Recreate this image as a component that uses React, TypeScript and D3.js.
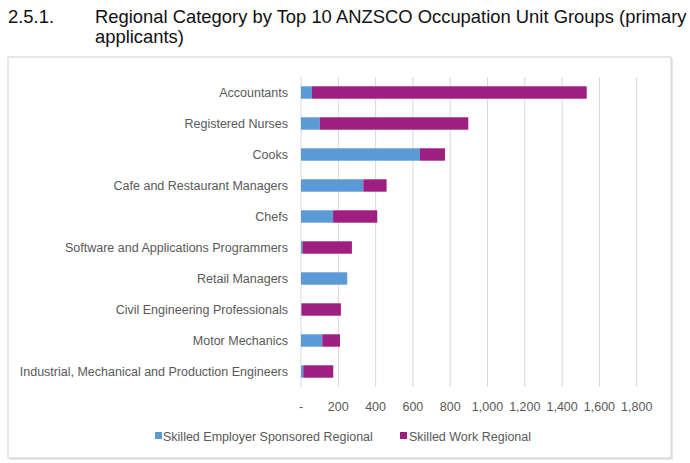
import React from "react";
import * as d3 from "d3";

const categories = [
  "Accountants",
  "Registered Nurses",
  "Cooks",
  "Cafe and Restaurant Managers",
  "Chefs",
  "Software and Applications Programmers",
  "Retail Managers",
  "Civil Engineering Professionals",
  "Motor Mechanics",
  "Industrial, Mechanical and Production Engineers",
];
const employerSponsored = [59, 100, 638, 334, 172, 8, 248, 3, 114, 12];
const skilledWork = [1473, 797, 134, 125, 237, 265, 0, 211, 95, 161];
const tickValues = [0, 200, 400, 600, 800, 1000, 1200, 1400, 1600, 1800];
const seriesNames = ["Skilled Employer Sponsored Regional", "Skilled Work Regional"];
const colors = ["#5B9BD5", "#9E1F80"];

export default function App() {
  const W = 690, H = 463;
  const x = d3.scaleLinear().domain([0, 1800]).range([301, 636.7]);
  const y = d3.scaleBand().domain(categories).range([77, 387]).paddingInner(0.6).paddingOuter(0.3);
  const fmt = (v: number) => (v === 0 ? "-" : d3.format(",")(v));
  const labelFont = "'Liberation Sans', Arial, sans-serif";
  const fs = 12.5;
  const tfs = 18.4;
  return (
    <svg width={W} height={H} style={{ position: "absolute", left: 0, top: 0, background: "#fff" }}>
      <text x={8} y={23} fontFamily={labelFont} fontSize={tfs} fill="#111">2.5.1.</text>
      <text x={95} y={23} fontFamily={labelFont} fontSize={tfs} fill="#111">
        Regional Category by Top 10 ANZSCO Occupation Unit Groups (primary
      </text>
      <text x={95} y={43} fontFamily={labelFont} fontSize={tfs} fill="#111">applicants)</text>
      <rect x={10} y={58} width={663} height={402} fill="#e8e8e8" />
      <rect x={8} y={57} width={663} height={401} fill="#fff" stroke="#d0d0d0" strokeWidth={1} />
      {tickValues.map((t) => (
        <line key={t} x1={x(t)} x2={x(t)} y1={77} y2={387} stroke="#d9d9d9" strokeWidth={1} />
      ))}
      {categories.map((c, i) => (
        <g key={c}>
          <rect x={x(0)} y={y(c)!} width={x(employerSponsored[i]) - x(0)} height={y.bandwidth()} fill={colors[0]} />
          <rect
            x={x(employerSponsored[i])}
            y={y(c)!}
            width={x(employerSponsored[i] + skilledWork[i]) - x(employerSponsored[i])}
            height={y.bandwidth()}
            fill={colors[1]}
          />
          <text
            x={288}
            y={y(c)! + y.bandwidth() / 2}
            dy="0.35em"
            textAnchor="end"
            fontFamily={labelFont}
            fontSize={fs}
            fill="#595959"
          >
            {c}
          </text>
        </g>
      ))}
      {tickValues.map((t) => (
        <text key={t} x={x(t)} y={411} textAnchor="middle" fontFamily={labelFont} fontSize={fs} fill="#595959">
          {fmt(t)}
        </text>
      ))}
      <rect x={155} y={432} width={7} height={7} fill={colors[0]} />
      <text x={163} y={441} fontFamily={labelFont} fontSize={fs} fill="#595959">{seriesNames[0]}</text>
      <rect x={400} y={432} width={7} height={7} fill={colors[1]} />
      <text x={409} y={441} fontFamily={labelFont} fontSize={fs} fill="#595959">{seriesNames[1]}</text>
    </svg>
  );
}
